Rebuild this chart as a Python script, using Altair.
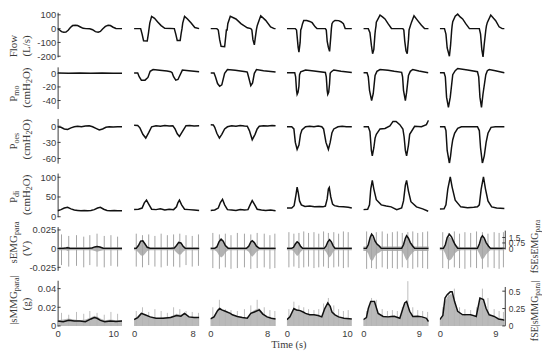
import altair as alt
import pandas as pd

# ---------------- data ----------------
COL_XMAX = [11.8, 8.95, 9.26, 10.9, 10.6, 10.6]
COL_XEND = [10, 8, 8, 10, 9, 9]

FLOW_T = [
    [0, 0.3, 0.7, 1.1, 1.5, 1.9, 2.3, 2.7, 3.2, 3.6, 4.1, 4.6, 5.1, 5.8, 6.3, 6.8, 7.3, 7.7, 8.1, 8.6, 9.1, 9.5, 10.0, 10.5, 11.6],
    [0, 0.9, 1.1, 1.3, 1.8, 1.95, 2.05, 2.15, 2.4, 2.8, 3.2, 3.7, 4.2, 5.5, 5.7, 5.9, 6.3, 6.45, 6.55, 6.65, 6.9, 7.3, 7.8, 8.3, 8.9],
    [0, 0.9, 1.1, 1.3, 1.5, 2.0, 2.15, 2.25, 2.35, 2.45, 2.8, 3.6, 4.3, 5.2, 5.7, 5.85, 6.0, 6.2, 6.35, 6.5, 6.6, 6.7, 7.1, 7.8, 8.5, 9.0, 9.2],
    [0, 1.4, 1.6, 1.75, 1.87, 2.0, 2.2, 2.3, 2.4, 2.6, 2.8, 3.3, 3.8, 4.2, 4.7, 5.0, 6.4, 6.55, 6.7, 6.9, 7.1, 7.3, 7.4, 7.5, 7.7, 8.0, 8.6, 9.0, 9.4, 9.7, 10.8],
    [0, 0.8, 1.07, 1.3, 1.5, 1.7, 1.88, 1.95, 2.05, 2.1, 2.7, 3.1, 3.5, 4.0, 4.55, 6.4, 6.55, 6.7, 6.9, 7.1, 7.3, 7.4, 7.6, 7.8, 8.2, 8.8, 9.4, 9.9, 10.55],
    [0, 0.76, 1.0, 1.2, 1.56, 1.75, 1.93, 2.0, 2.1, 2.5, 2.9, 3.3, 3.7, 4.2, 4.8, 6.4, 6.6, 6.8, 7.0, 7.2, 7.45, 7.55, 7.7, 8.25, 8.7, 9.05, 9.6, 10.1, 10.45],
]
FLOW_V = [
    [0, -8, -22, -26, -25, -12, 8, 22, 24, 22, 12, 2, 0, -1, -8, -22, -26, -20, -2, 16, 24, 22, 10, 1, 0],
    [0, 0, -40, -88, -90, -40, 0, 40, 89, 75, 50, 22, 2, 0, -40, -86, -86, -30, 0, 40, 89, 70, 40, 8, 0],
    [0, 0, -10, -80, -128, -131, -60, -10, -10, 36, 89, 70, 36, 6, 0, -10, -80, -118, -60, -5, 20, 36, 93, 60, 13, 0, 0],
    [0, 0, -10, -80, -136, -171, -100, -10, 0, 36, 59, 59, 52, 43, 13, 0, 0, -10, -90, -136, -165, -60, 0, 36, 50, 59, 58, 50, 36, 0, 0],
    [0, 0, -30, -120, -182, -150, -40, -10, 20, 47, 98, 85, 70, 36, 1, 0, -10, -90, -160, -182, -80, -10, 20, 47, 93, 58, 24, 0, 0],
    [0, 0, -40, -140, -200, -120, -10, 20, 50, 90, 105, 85, 70, 36, 0, 0, -40, -150, -205, -110, -10, 20, 45, 98, 75, 58, 13, 0, 0],
]

PMO_T = [
    [0, 2, 4, 6, 8, 10, 11.6],
    [0, 0.5, 0.7, 1.0, 1.5, 1.9, 2.2, 2.6, 3.5, 4.5, 5.0, 5.2, 5.4, 5.7, 6.0, 6.3, 6.6, 7.5, 8.9],
    [0, 0.5, 0.7, 1.0, 1.3, 1.6, 2.0, 2.4, 3.5, 5.0, 5.2, 5.45, 5.7, 5.95, 6.2, 6.5, 7.5, 9.2],
    [0, 1.3, 1.45, 1.6, 1.7, 1.85, 2.0, 2.1, 2.3, 3.1, 4.5, 6.4, 6.55, 6.7, 6.8, 6.95, 7.1, 7.2, 7.4, 7.8, 9.0, 10.8],
    [0, 0.6, 0.8, 1.0, 1.34, 1.6, 1.9, 2.2, 2.7, 4, 5, 6.2, 6.35, 6.5, 6.8, 7.0, 7.3, 7.6, 8.0, 9, 10.5],
    [0, 0.7, 0.9, 1.1, 1.4, 1.7, 2.1, 2.5, 2.9, 4.5, 6.1, 6.3, 6.5, 6.75, 7.0, 7.45, 7.7, 8.0, 9, 10.45],
]
PMO_V = [
    [0.5, 0.3, 0.5, 0, 0.4, 0.2, 0.3],
    [0.5, 0.5, -5, -10, -10, -6, 3, 5.5, 4.5, 3.5, 2.5, 1, -5, -10, -9, -2, 4.8, 4, 2.5],
    [0.5, 0.5, -5, -15, -19, -17, 0, 5.5, 4.5, 2.5, 2, -8, -18, -14, 0, 5.5, 4, 2],
    [1, 1, -5, -25, -31, -28, -19, -2, 2.4, 5, 3.5, 1.4, -5, -25, -31, -28, -15, 0, 2.5, 5, 3, 1.4],
    [1, 1, -5, -25, -40, -30, -3, 3, 5.7, 4.5, 3, 1.5, -5, -25, -40, -28, -3, 3, 5.7, 3.5, 1],
    [1, 1, -5, -35, -50, -35, -2, 4, 7.1, 5, 2.4, -5, -35, -50, -30, -2, 4, 5.7, 4, 1],
]

POES_T = [
    [0, 0.6, 1.2, 1.8, 2.4, 3.0, 3.6, 4.3, 5.0, 5.7, 6.3, 6.9, 7.5, 8.1, 8.7, 9.3, 10.0, 10.8, 11.6],
    [0, 0.5, 0.8, 1.2, 1.6, 2.0, 2.4, 3.0, 3.6, 4.2, 4.8, 5.3, 5.6, 5.9, 6.2, 6.6, 7.1, 7.6, 8.2, 8.9],
    [0, 0.4, 0.6, 0.9, 1.26, 1.6, 2.0, 2.4, 3.0, 3.6, 4.2, 4.8, 5.2, 5.5, 5.9, 6.3, 6.6, 6.9, 7.5, 8.1, 8.7, 9.2],
    [0, 0.8, 1.16, 1.4, 1.7, 2.0, 2.26, 2.5, 3.1, 3.8, 4.5, 5.2, 5.8, 6.1, 6.5, 6.9, 7.2, 7.5, 7.8, 8.5, 9.2, 9.9, 10.8],
    [0, 0.8, 1.07, 1.3, 1.45, 1.7, 1.9, 2.1, 2.7, 3.5, 4.3, 4.8, 5.3, 5.9, 6.4, 6.6, 6.8, 7.0, 7.3, 7.5, 8.3, 9.4, 10.2, 10.55],
    [0, 0.8, 1.0, 1.2, 1.56, 1.75, 1.9, 2.1, 2.4, 2.9, 3.5, 4.5, 5.5, 6.1, 6.4, 6.6, 6.9, 7.2, 7.5, 7.8, 8.3, 9, 9.8, 10.45],
]
POES_V = [
    [-1, -2, -5, -6, -3, -1, 0, -1, 0.5, 1, -1, -4, -7, -5, -2, -1, -1.5, -1, -1],
    [1.8, 1.5, -3, -15, -22, -12, -1, 1, 0, 1.5, 0.5, 1, -5, -14, -19, -10, 1, 1.5, 0.5, 1],
    [3, 2.5, -2, -13, -22, -15, -5, -1, 1, 0, 1.5, 0.5, 0, -8, -25, -15, -5, 0, 1, 0.5, 1.5, 1],
    [-1, -1, -5, -30, -43, -35, -15, -7, -1, 0, -1, 0.5, -1, -5, -30, -43, -30, -12, -5, -1, 0, -1, -1],
    [-1, -1, -10, -45, -55, -40, -22, -15, -5, -4, 0.5, 9, 9, 3, -5, -20, -45, -55, -35, -15, 0, -1, 3, 11],
    [-1, -1, -8, -45, -69, -55, -40, -25, -13, -4, -1, -1, -1, -1, -8, -40, -69, -55, -30, -13, -2, -1, -1, -1],
]

PDI_T = [
    [0, 0.6, 1.2, 1.8, 2.4, 3.0, 3.6, 4.2, 4.8, 5.4, 6.0, 6.6, 7.2, 7.7, 8.3, 8.9, 9.5, 10.2, 10.8, 11.6],
    [0, 0.6, 1.1, 1.4, 1.7, 2.0, 2.4, 3.0, 3.6, 4.2, 4.8, 5.4, 5.8, 6.0, 6.2, 6.5, 6.9, 7.5, 8.2, 8.9],
    [0, 0.6, 1.1, 1.4, 1.7, 2.0, 2.4, 3.0, 3.6, 4.2, 4.8, 5.3, 5.6, 5.9, 6.2, 6.6, 7.2, 7.8, 8.5, 9.2],
    [0, 0.8, 1.2, 1.5, 1.7, 1.9, 2.1, 2.4, 3.0, 3.8, 4.6, 5.4, 6.0, 6.4, 6.7, 6.9, 7.05, 7.3, 7.6, 7.9, 8.6, 9.4, 10.2, 10.8],
    [0, 0.7, 1.0, 1.2, 1.45, 1.7, 2.1, 2.9, 3.7, 4.5, 5.4, 6.2, 6.5, 6.8, 7.0, 7.3, 7.7, 8.6, 9.6, 10.5],
    [0, 0.7, 1.0, 1.3, 1.7, 2.0, 2.5, 3.4, 4.5, 5.5, 6.1, 6.4, 6.7, 7.07, 7.4, 7.8, 8.4, 9.2, 10.45],
]
PDI_V = [
    [15, 18, 22, 24, 20, 17, 16, 15, 16, 15, 16, 18, 22, 24, 19, 16, 15, 16, 15, 15],
    [18, 19, 22, 35, 42, 32, 19, 18, 20, 17, 19, 18, 25, 36, 42, 30, 19, 18, 17, 16],
    [16, 17, 22, 36, 44, 30, 18, 17, 16, 18, 17, 18, 30, 41, 32, 19, 17, 16, 17, 15],
    [22, 22, 28, 55, 75, 60, 40, 30, 26, 27, 25, 26, 25, 27, 45, 70, 74, 50, 32, 28, 26, 25, 24, 22],
    [18, 19, 30, 70, 92, 70, 43, 30, 27, 25, 18, 22, 40, 80, 92, 65, 38, 25, 20, 14],
    [19.7, 20, 30, 70, 101, 75, 42, 25, 23, 24, 25, 30, 70, 101, 70, 40, 25, 22, 21],
]

# sEMG: envelope (right axis units), raw burst amplitude (V), ECG spikes (V)
EMG_T = [
    [0, 1.0, 1.5, 1.8, 2.2, 3, 5.5, 6.2, 6.7, 7.1, 7.6, 8.2, 9, 11.6],
    [0, 0.3, 0.6, 0.9, 1.2, 1.5, 1.8, 2.2, 3, 4, 5, 5.5, 5.8, 6.1, 6.4, 6.7, 7.0, 8, 8.9],
    [0, 0.6, 0.9, 1.2, 1.5, 1.8, 2.1, 2.5, 3.5, 4.5, 5.1, 5.4, 5.7, 5.9, 6.2, 6.5, 6.9, 7.5, 8.5, 9.2],
    [0, 0.8, 1.1, 1.4, 1.7, 2.0, 2.3, 2.6, 3.5, 4.5, 5.5, 6.2, 6.5, 6.8, 7.1, 7.4, 7.7, 8.0, 9, 10.8],
    [0, 0.5, 0.8, 1.1, 1.34, 1.6, 1.9, 2.2, 2.6, 2.9, 3.5, 4.5, 5.5, 6.2, 6.5, 6.8, 7.0, 7.3, 7.6, 8.0, 8.3, 9, 10.55],
    [0, 0.6, 0.9, 1.2, 1.56, 1.9, 2.2, 2.5, 2.9, 3.5, 4.5, 5.5, 6.1, 6.4, 6.7, 6.9, 7.2, 7.5, 7.9, 8.2, 9, 10.45],
]
EMG_ENV = [
    [0, 0, 0.05, 0.1, 0.03, 0, 0, 0.05, 0.2, 0.27, 0.2, 0.03, 0, 0],
    [0, 0, 0.4, 1.0, 1.05, 0.6, 0.15, 0, 0, 0, 0, 0.05, 0.4, 0.82, 0.75, 0.3, 0, 0, 0],
    [0, 0, 0.2, 0.9, 1.27, 1.0, 0.4, 0, 0, 0, 0, 0.3, 0.9, 1.05, 0.8, 0.3, 0, 0, 0, 0],
    [0, 0, 0.15, 0.6, 0.92, 0.7, 0.25, 0, 0, 0, 0, 0, 0.3, 0.9, 1.19, 0.9, 0.35, 0, 0, 0],
    [0, 0, 0.5, 1.5, 1.96, 1.7, 1.0, 0.6, 0.3, 0, 0, 0, 0, 0, 0.5, 1.4, 1.74, 1.4, 0.8, 0.3, 0, 0, 0],
    [0, 0, 0.5, 1.5, 1.96, 1.6, 1.0, 0.5, 0, 0, 0, 0, 0, 0.6, 1.5, 1.74, 1.4, 0.8, 0.3, 0, 0, 0],
]
EMG_AMP = [
    [0.002, 0.002, 0.002, 0.003, 0.002, 0.002, 0.002, 0.002, 0.003, 0.004, 0.003, 0.002, 0.002, 0.002],
    [0.002, 0.002, 0.005, 0.009, 0.01, 0.007, 0.003, 0.002, 0.002, 0.002, 0.002, 0.002, 0.005, 0.008, 0.008, 0.004, 0.002, 0.002, 0.002],
    [0.002, 0.002, 0.004, 0.009, 0.012, 0.01, 0.005, 0.002, 0.002, 0.002, 0.002, 0.004, 0.009, 0.011, 0.008, 0.004, 0.002, 0.002, 0.002, 0.002],
    [0.002, 0.002, 0.003, 0.007, 0.01, 0.008, 0.004, 0.002, 0.002, 0.002, 0.002, 0.002, 0.004, 0.009, 0.012, 0.009, 0.004, 0.002, 0.002, 0.002],
    [0.003, 0.003, 0.007, 0.014, 0.017, 0.015, 0.01, 0.007, 0.005, 0.003, 0.003, 0.003, 0.003, 0.003, 0.007, 0.013, 0.016, 0.013, 0.009, 0.005, 0.003, 0.003, 0.003],
    [0.002, 0.002, 0.007, 0.014, 0.016, 0.014, 0.01, 0.006, 0.003, 0.002, 0.002, 0.002, 0.002, 0.007, 0.013, 0.015, 0.012, 0.008, 0.004, 0.002, 0.002, 0.002],
]
SPIKE_T = [
    [0.7, 2.0, 3.4, 4.7, 5.8, 7.1, 8.4, 9.6, 10.8],
    [0.3, 1.15, 2.0, 2.85, 3.7, 4.55, 5.4, 6.25, 7.1, 7.95, 8.8],
    [0.33, 1.26, 2.1, 2.9, 3.8, 4.8, 5.7, 6.6, 7.6, 8.4, 9.1],
    [0.33, 1.16, 2.0, 2.8, 3.6, 4.5, 5.3, 6.1, 6.9, 7.8, 8.6, 9.4, 10.2],
    [0.53, 1.33, 2.1, 3.05, 3.9, 4.7, 5.5, 6.3, 7.2, 8.0, 8.8, 9.6, 10.4],
    [0.48, 1.4, 2.36, 3.2, 4.07, 5.0, 5.95, 6.9, 7.8, 8.8, 9.6, 10.3],
]
SPIKE_TOP = [
    [0.019, 0.017, 0.018, 0.016, 0.018, 0.02, 0.017, 0.018, 0.016],
    [0.02, 0.018, 0.019, 0.017, 0.02, 0.018, 0.019, 0.02, 0.018, 0.017, 0.019],
    [0.021, 0.019, 0.02, 0.018, 0.021, 0.02, 0.019, 0.021, 0.02, 0.018, 0.02],
    [0.022, 0.02, 0.021, 0.023, 0.021, 0.022, 0.02, 0.023, 0.021, 0.022, 0.02, 0.023, 0.022],
    [0.023, 0.021, 0.022, 0.023, 0.02, 0.022, 0.023, 0.021, 0.022, 0.023, 0.021, 0.022, 0.023],
    [0.022, 0.021, 0.023, 0.02, 0.022, 0.021, 0.023, 0.022, 0.02, 0.022, 0.021, 0.022],
]
SPIKE_BOT = [
    [-0.022, -0.024, -0.023, -0.025, -0.022, -0.024, -0.025, -0.023, -0.024],
    [-0.024, -0.025, -0.022, -0.024, -0.025, -0.023, -0.024, -0.025, -0.022, -0.024, -0.023],
    [-0.026, -0.027, -0.025, -0.027, -0.026, -0.025, -0.027, -0.026, -0.025, -0.027, -0.026],
    [-0.025, -0.024, -0.026, -0.025, -0.024, -0.026, -0.025, -0.024, -0.026, -0.025, -0.024, -0.026, -0.025],
    [-0.027, -0.026, -0.027, -0.025, -0.027, -0.026, -0.027, -0.025, -0.026, -0.027, -0.025, -0.026, -0.027],
    [-0.026, -0.027, -0.025, -0.026, -0.027, -0.025, -0.026, -0.027, -0.025, -0.026, -0.027, -0.025],
]

# |sMMG|: envelope (right axis units), rectified signal level (g), spikes (g)
MMG_T = [
    [0, 1, 2, 3, 4, 5, 6, 6.6, 7.1, 7.7, 8.5, 9.5, 10.5, 11.6],
    [0, 0.5, 1.0, 1.5, 2.2, 3, 4, 5, 5.8, 6.4, 6.9, 7.5, 8.2, 8.9],
    [0, 0.5, 1.0, 1.3, 1.6, 2.1, 2.8, 3.1, 3.8, 4.5, 5.2, 5.7, 6.2, 6.9, 7.4, 8.0, 8.6, 9.2],
    [0, 0.5, 1.16, 1.6, 2.2, 2.7, 3.1, 3.8, 4.5, 5.2, 5.8, 6.3, 6.8, 7.2, 7.5, 8.0, 8.6, 9.5, 10.8],
    [0, 0.5, 0.8, 1.2, 1.8, 2.4, 3.2, 4.0, 4.5, 5.0, 5.9, 6.4, 6.7, 7.0, 7.5, 8.0, 8.8, 9.5, 10.2, 10.55],
    [0, 0.5, 0.85, 1.2, 1.7, 2.0, 2.4, 2.9, 3.7, 5.0, 5.9, 6.5, 7.07, 7.5, 8.0, 8.8, 9.5, 10.2, 10.45],
]
MMG_ENV = [
    [0.07, 0.06, 0.08, 0.07, 0.07, 0.06, 0.1, 0.12, 0.11, 0.08, 0.06, 0.07, 0.065, 0.07],
    [0.09, 0.12, 0.18, 0.16, 0.13, 0.11, 0.11, 0.12, 0.15, 0.14, 0.18, 0.13, 0.12, 0.12],
    [0.1, 0.13, 0.22, 0.25, 0.23, 0.21, 0.18, 0.16, 0.135, 0.12, 0.11, 0.18, 0.2, 0.23, 0.17, 0.13, 0.11, 0.1],
    [0.09, 0.13, 0.25, 0.23, 0.22, 0.2, 0.18, 0.16, 0.16, 0.15, 0.13, 0.25, 0.33, 0.28, 0.2, 0.16, 0.13, 0.11, 0.1],
    [0.09, 0.12, 0.25, 0.35, 0.35, 0.18, 0.136, 0.13, 0.136, 0.14, 0.11, 0.25, 0.33, 0.35, 0.21, 0.136, 0.14, 0.13, 0.11, 0.064],
    [0.09, 0.15, 0.4, 0.45, 0.49, 0.49, 0.35, 0.21, 0.16, 0.16, 0.136, 0.4, 0.38, 0.25, 0.16, 0.136, 0.1, 0.09, 0.08],
]
MMG_FILL = [
    [0.006, 0.007, 0.008, 0.007, 0.006, 0.007, 0.009, 0.011, 0.01, 0.008, 0.006, 0.007, 0.006, 0.006],
    [0.007, 0.01, 0.014, 0.012, 0.01, 0.008, 0.009, 0.01, 0.013, 0.012, 0.014, 0.01, 0.009, 0.008],
    [0.008, 0.011, 0.018, 0.02, 0.018, 0.016, 0.014, 0.012, 0.01, 0.009, 0.008, 0.014, 0.017, 0.019, 0.014, 0.01, 0.008, 0.007],
    [0.007, 0.01, 0.018, 0.018, 0.017, 0.015, 0.013, 0.012, 0.012, 0.011, 0.01, 0.018, 0.024, 0.02, 0.015, 0.012, 0.01, 0.008, 0.007],
    [0.006, 0.008, 0.018, 0.025, 0.025, 0.014, 0.01, 0.01, 0.01, 0.01, 0.008, 0.018, 0.023, 0.025, 0.016, 0.01, 0.01, 0.009, 0.007, 0.005],
    [0.006, 0.01, 0.026, 0.031, 0.034, 0.034, 0.025, 0.015, 0.011, 0.011, 0.009, 0.028, 0.027, 0.018, 0.011, 0.009, 0.007, 0.006, 0.005],
]
MMG_SPIKE = [
    [0.014, 0.012, 0.015, 0.013, 0.016, 0.014, 0.012, 0.015, 0.013],
    [0.016, 0.02, 0.015, 0.018, 0.016, 0.014, 0.02, 0.018, 0.016, 0.015, 0.014],
    [0.02, 0.028, 0.018, 0.017, 0.016, 0.018, 0.022, 0.028, 0.02, 0.017, 0.016],
    [0.018, 0.026, 0.022, 0.02, 0.018, 0.017, 0.018, 0.024, 0.03, 0.022, 0.018, 0.016, 0.017],
    [0.016, 0.03, 0.028, 0.018, 0.016, 0.017, 0.016, 0.02, 0.048, 0.02, 0.017, 0.016, 0.015],
    [0.02, 0.035, 0.04, 0.02, 0.018, 0.017, 0.02, 0.04, 0.03, 0.018, 0.016, 0.015],
]

# axis ranges / ticks
ROW_H = [45, 42, 45, 44, 44, 46]
Y_DOM = [[-205, 118.6], [-51.8, 9.6], [-68.6, 14.5], [0, 110.6], [-0.029, 0.0294], [0, 0.049]]
Y_TICKS = [[-200, -100, 0, 100], [-40, -20, 0], [-60, -30, 0], [0, 50, 100], [-0.025, 0, 0.025], [0, 0.02, 0.04]]
R_DOM = {4: [-3.03, 3.0], 5: [0, 0.657]}
R_TICKS = {4: [0, 0.75, 1.5], 5: [0, 0.25, 0.5]}
R_LINE = {4: [-0.15, 2.45], 5: [0, 0.56]}

# ---------------- style ----------------
W = 66
SANS = "Liberation Sans"
SERIF = "Liberation Serif"
TXT = "#3a3a3a"
BLACK = "#111111"
GREY = "#a4a4a4"
ONE = pd.DataFrame({"k": [0]})

CW = {"P": .556, "m": .778, "o": .5, "e": .444, "s": .389, "d": .5, "i": .278, "a": .444,
      "r": .333, "p": .5, "E": .611, "M": .889, "G": .722, "S": .556, "f": .333, "|": .2,
      "(": .333, ")": .333, "c": .444, "H": .722, "2": .5, "O": .722, "L": .611, "/": .278,
      "V": .722, "g": .5, "F": .556, "l": .278, "w": .722, "T": .611, " ": .25}


def tw(s, size):
    return sum(CW.get(ch, 0.5) for ch in s) * size


def rot_text(parts, x, yc):
    total = sum(tw(p[0], p[1]) for p in parts)
    y = yc + total / 2
    out = []
    for text, size, dx in parts:
        w = tw(text, size)
        out.append(alt.Chart(ONE).mark_text(angle=270, align="center", baseline="middle",
                                            font=SERIF, fontSize=size, color=TXT).encode(
            x=alt.value(x + dx), y=alt.value(y - w / 2), text=alt.value(text)))
        y -= w
    return out


TITLES = {
    0: ([("Flow", 11, 0)], [("(L/s)", 11, 0)], 34, 34),
    1: ([("P", 11, 0), ("mo", 8, 3)], [("(cmH", 11, 0), ("2", 8, 3), ("O)", 11, 0)], 27, 21),
    2: ([("P", 11, 0), ("oes", 8, 3)], [("(cmH", 11, 0), ("2", 8, 3), ("O)", 11, 0)], 23, 21),
    3: ([("P", 11, 0), ("di", 8, 3)], [("(cmH", 11, 0), ("2", 8, 3), ("O)", 11, 0)], 24, 22),
    4: ([("sEMG", 11, 0), ("para", 8, 3)], [("(V)", 11, 0)], 16, 22),
    5: ([("|sMMG", 11, 0), ("para", 8, 3), ("|", 11, 0)], [("(g)", 11, 0)], 20, 24),
}
RIGHT_TITLES = {
    4: ([("fSEsEMG", 10, 0), ("para", 7.5, 3)], 20),
    5: ([("fSE|sMMG", 10, 0), ("para", 7.5, 3), ("|", 10, 0)], 31),
}


def xenc(c, r):
    if r == 5:
        axis = alt.Axis(values=[0, COL_XEND[c]], title=None, domain=False, ticks=False, grid=False,
                        labelFont=SANS, labelFontSize=9.5, labelColor=TXT, labelPadding=3,
                        labelFlush=False, labelExpr="toString(datum.value)")
    else:
        axis = None
    return alt.X("t:Q", scale=alt.Scale(domain=[0, COL_XMAX[c]], nice=False, zero=False), axis=axis)


def left_axis(c, r):
    if c != 0:
        return None
    return alt.Axis(values=Y_TICKS[r], title=None, ticks=False, grid=False, domain=True,
                    domainColor=TXT, domainWidth=1, labelFont=SANS, labelFontSize=9.5,
                    labelColor=TXT, labelPadding=2, labelOverlap=False,
                    labelExpr="toString(datum.value)")


def right_axis(c, r):
    if c != 5:
        return None
    return alt.Axis(orient="right", values=R_TICKS[r], title=None, ticks=False, grid=False,
                    domain=False, labelFont=SANS, labelFontSize=8.5, labelColor=TXT,
                    labelPadding=3, labelOverlap=False, labelExpr="toString(datum.value)")


def yscale(r):
    return alt.Scale(domain=Y_DOM[r], nice=False, zero=False)


def tick_layer(r, scale, axis, field="v"):
    df = pd.DataFrame({field: Y_TICKS[r]})
    return alt.Chart(df).mark_rule(color=TXT, strokeWidth=1).encode(
        x=alt.value(0), x2=alt.value(3), y=alt.Y(f"{field}:Q", scale=scale, axis=axis))


SIMPLE = [(FLOW_T, FLOW_V), (PMO_T, PMO_V), (POES_T, POES_V), (PDI_T, PDI_V)]

panels = []
for r in range(6):
    for c in range(6):
        h = ROW_H[r]
        extra = []
        if c == 0:
            l1, l2, y1, y2 = TITLES[r]
            extra += rot_text(l1, -44, y1)
            extra += rot_text(l2, -31, y2)
        if r == 5 and c == 3:
            extra.append(alt.Chart(ONE).mark_text(font=SERIF, fontSize=10.5, color=TXT,
                                                  align="center", baseline="middle").encode(
                x=alt.value(2), y=alt.value(h + 19), text=alt.value("Time (s)")))
        if r < 4:
            T, V = SIMPLE[r]
            df = pd.DataFrame({"t": T[c], "v": V[c]})
            sc = yscale(r)
            ax = left_axis(c, r)
            layers = [alt.Chart(df).mark_line(color=BLACK, strokeWidth=1.5, clip=True).encode(
                x=xenc(c, r), y=alt.Y("v:Q", scale=sc, axis=ax))]
            if c == 0:
                layers.append(tick_layer(r, sc, ax))
            ch = alt.layer(*layers, *extra)
        else:
            sc = yscale(r)
            ax = left_axis(c, r)
            rsc = alt.Scale(domain=R_DOM[r], nice=False, zero=False)
            rax = right_axis(c, r)
            if r == 4:
                band = pd.DataFrame({"t": EMG_T[c], "v": EMG_AMP[c],
                                     "lo": [-a for a in EMG_AMP[c]]})
                env = pd.DataFrame({"t": EMG_T[c], "e": EMG_ENV[c]})
                sp = pd.DataFrame({"t": SPIKE_T[c], "v": SPIKE_TOP[c], "lo": SPIKE_BOT[c]})
                left = [
                    alt.Chart(sp).mark_rule(color=GREY, strokeWidth=1).encode(
                        x=xenc(c, r), y=alt.Y("v:Q", scale=sc, axis=ax), y2="lo:Q"),
                    alt.Chart(band).mark_area(color=GREY, opacity=0.85).encode(
                        x=xenc(c, r), y=alt.Y("v:Q", scale=sc, axis=ax), y2="lo:Q"),
                ]
            else:
                fill = pd.DataFrame({"t": MMG_T[c], "v": MMG_FILL[c]})
                env = pd.DataFrame({"t": MMG_T[c], "e": MMG_ENV[c]})
                sp = pd.DataFrame({"t": SPIKE_T[c], "v": MMG_SPIKE[c]})
                left = [
                    alt.Chart(sp).mark_rule(color="#bdbdbd", strokeWidth=1).encode(
                        x=xenc(c, r), y=alt.Y("v:Q", scale=sc, axis=ax), y2=alt.datum(0)),
                    alt.Chart(fill).mark_area(color="#b3b3b3", opacity=0.9).encode(
                        x=xenc(c, r), y=alt.Y("v:Q", scale=sc, axis=ax), y2=alt.datum(0)),
                ]
            if c == 0:
                left.append(tick_layer(r, sc, ax))
            right = [alt.Chart(env).mark_line(color=BLACK, strokeWidth=1.5, clip=True).encode(
                x=xenc(c, r), y=alt.Y("e:Q", scale=rsc, axis=rax))]
            if c == 5:
                rt = pd.DataFrame({"e": R_TICKS[r]})
                right.append(alt.Chart(rt).mark_rule(color=TXT, strokeWidth=1).encode(
                    x=alt.value(W - 3), x2=alt.value(W), y=alt.Y("e:Q", scale=rsc, axis=rax)))
                rl = pd.DataFrame({"e": [R_LINE[r][0]], "e2": [R_LINE[r][1]]})
                right.append(alt.Chart(rl).mark_rule(color=TXT, strokeWidth=1).encode(
                    x=alt.value(W), y=alt.Y("e:Q", scale=rsc, axis=rax), y2="e2:Q"))
                parts, yc = RIGHT_TITLES[r]
                extra += rot_text(parts, W + 30, yc)
            ch = alt.layer(alt.layer(*left), alt.layer(*right), *extra).resolve_scale(y="independent")
        panels.append(ch.properties(width=W, height=h))

chart = alt.ConcatChart(concat=panels, columns=6, spacing={"row": 10, "column": 11},
                        bounds="flush", align="each").properties(padding=0).configure_view(stroke=None)

chart.save("out.html", embed_options={"renderer": "svg", "actions": False})
